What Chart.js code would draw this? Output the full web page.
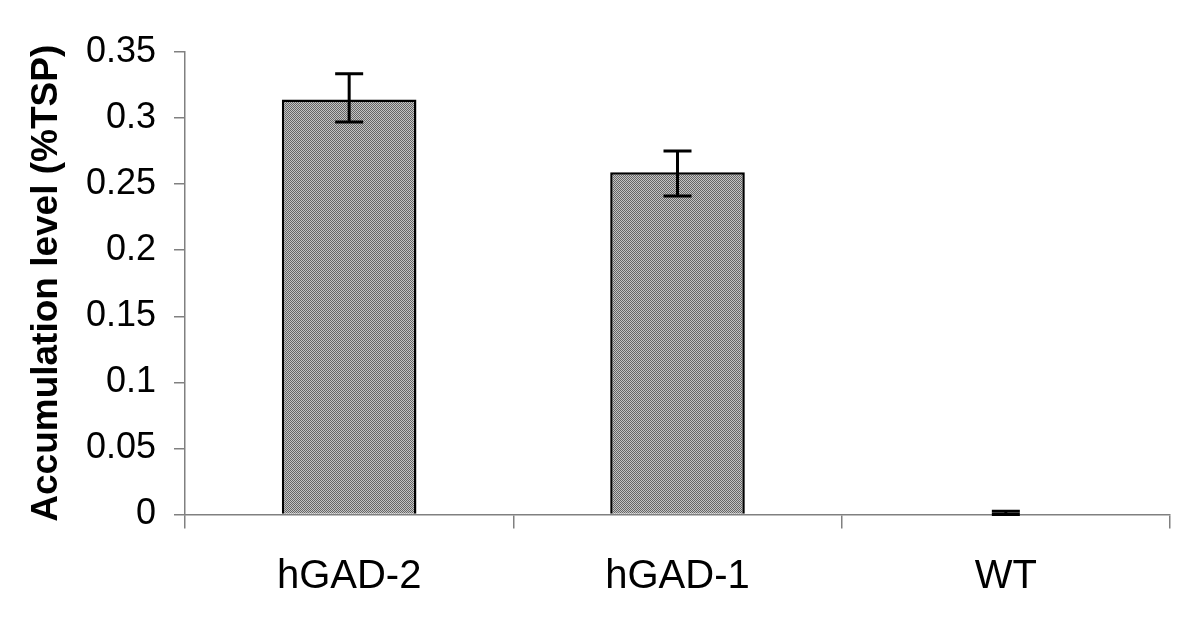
<!DOCTYPE html>
<html lang="en">
<head>
    <meta charset="UTF-8">
    <title>Accumulation level</title>
    <script src="https://cdn.jsdelivr.net/npm/chart.js"></script>
    <style>
        body { margin: 0; background: #fff; }
        #wrap { width: 1200px; height: 624px; }
    </style>
</head>
<body>
    <div id="wrap"><canvas id="accChart" width="1200" height="624"></canvas></div>

    <script>
        // Values
        const categories = ['hGAD-2', 'hGAD-1', 'WT'];
        const meanValues = [0.314, 0.259, 0];
        const errorLow = [0.297, 0.241, 0];
        const errorHigh = [0.3335, 0.275, 0.0025];
        const yTicks = [0, 0.05, 0.1, 0.15, 0.2, 0.25, 0.3, 0.35];

        // fine grey checker fill like the original print
        function makePattern() {
            const c = document.createElement('canvas');
            c.width = 2; c.height = 2;
            const g = c.getContext('2d');
            g.fillStyle = '#c4c4c4';
            g.fillRect(0, 0, 2, 2);
            g.fillStyle = '#666';
            g.fillRect(0, 0, 1, 1);
            g.fillRect(1, 1, 1, 1);
            return g.createPattern(c, 'repeat');
        }

        // error bars drawn on top of the bars
        const errorBars = {
            id: 'errorBars',
            afterDatasetsDraw(chart) {
                const ctx = chart.ctx;
                const y = chart.scales.y;
                const meta = chart.getDatasetMeta(0);
                ctx.save();
                ctx.strokeStyle = '#000';
                ctx.lineWidth = 3;
                meta.data.forEach((bar, i) => {
                    const x = bar.x;
                    const yLo = y.getPixelForValue(errorLow[i]);
                    const yHi = y.getPixelForValue(errorHigh[i]);
                    ctx.beginPath();
                    ctx.moveTo(x, yLo);
                    ctx.lineTo(x, yHi);
                    ctx.moveTo(x - 14, yLo);
                    ctx.lineTo(x + 14, yLo);
                    ctx.moveTo(x - 14, yHi);
                    ctx.lineTo(x + 14, yHi);
                    ctx.stroke();
                });
                ctx.restore();
            }
        };

        new Chart(document.getElementById('accChart'), {
            type: 'bar',
            data: {
                labels: categories,
                datasets: [{
                    data: meanValues,
                    backgroundColor: makePattern(),
                    borderColor: '#000',
                    borderWidth: ctx => (ctx.raw > 0 ? 2.5 : 0),
                    borderSkipped: 'start',
                    categoryPercentage: 1,
                    barPercentage: 0.41
                }]
            },
            options: {
                responsive: false,
                animation: false,
                layout: { padding: { top: 52, right: 30, left: 0, bottom: 0 } },
                plugins: {
                    legend: { display: false },
                    tooltip: { enabled: false }
                },
                scales: {
                    x: {
                        grid: {
                            offset: true,
                            drawOnChartArea: false,
                            tickLength: 14,
                            color: '#808080',
                            lineWidth: 1.5
                        },
                        border: { color: '#808080', width: 1.5 },
                        ticks: {
                            color: '#000',
                            padding: 24,
                            font: { family: 'Liberation Sans, Arial, sans-serif', size: 40 }
                        },
                        afterFit: s => { s.height = 109.5; }
                    },
                    y: {
                        min: 0,
                        max: 0.35,
                        afterBuildTicks: s => { s.ticks = yTicks.map(v => ({ value: v })); },
                        grid: {
                            drawOnChartArea: false,
                            tickLength: 11,
                            color: '#808080',
                            lineWidth: 1.5
                        },
                        border: { color: '#808080', width: 1.5 },
                        ticks: {
                            color: '#000',
                            padding: 18,
                            font: { family: 'Liberation Sans, Arial, sans-serif', size: 36 },
                            callback: v => String(Math.round(v * 100) / 100)
                        },
                        title: {
                            display: true,
                            text: 'Accumulation level (%TSP)',
                            color: '#000',
                            padding: { top: 25, bottom: 0 },
                            font: { family: 'Liberation Sans, Arial, sans-serif', size: 37, weight: 'bold' }
                        },
                        afterFit: s => { s.width = 185; }
                    }
                }
            },
            plugins: [errorBars]
        });
    </script>
</body>
</html>
